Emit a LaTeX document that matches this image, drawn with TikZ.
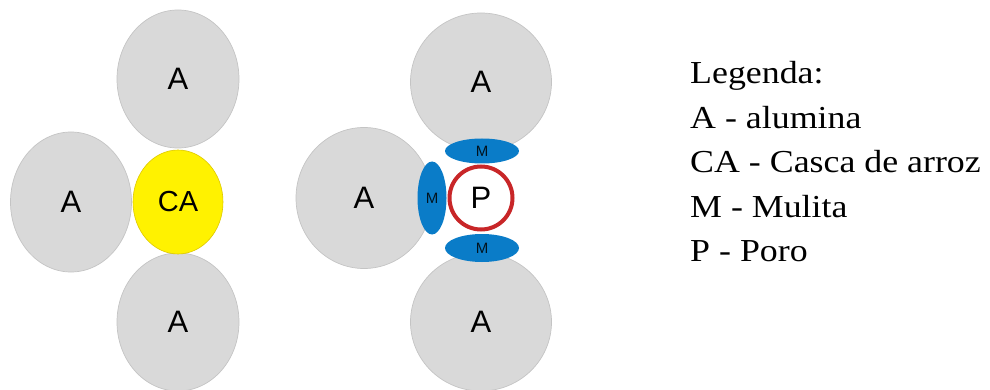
\documentclass[tikz,border=0pt]{standalone}
\usepackage{fontspec}
\setmainfont{Liberation Serif}
\newfontfamily\labelfont{Liberation Sans}
\usetikzlibrary{shapes.geometric}

\definecolor{grain}{RGB}{217,217,217}
\definecolor{grainedge}{RGB}{196,196,196}
\definecolor{husk}{RGB}{255,242,0}
\definecolor{huskedge}{RGB}{222,200,0}
\definecolor{mullite}{RGB}{10,124,200}
\definecolor{pore}{RGB}{200,38,40}

\tikzset{
  grainbox/.style={ellipse, inner sep=0pt, fill=grain, draw=grainedge, line width=0.7pt,
    font=\labelfont\fontsize{31}{32}\selectfont},
  huskbox/.style={ellipse, inner sep=0pt, fill=husk, draw=huskedge, line width=0.6pt,
    font=\labelfont\fontsize{29}{30}\selectfont},
  mullitebox/.style={ellipse, inner sep=0pt, fill=mullite, draw=none,
    text=black!85!mullite, font=\labelfont\fontsize{15}{16}\selectfont},
  porebox/.style={circle, inner sep=0pt, fill=white, draw=pore, line width=4pt,
    minimum size=63pt, font=\labelfont\fontsize{31}{32}\selectfont},
  legendline/.style={anchor=base west, inner sep=0pt, xscale=1.12, transform shape,
    font=\fontsize{32}{36}\selectfont}
}

\begin{document}
\begin{tikzpicture}[x=1pt, y=-1pt]
  \useasboundingbox (0,0) rectangle (990,390);

  % before firing: alumina grains around a rice husk particle
  \node[grainbox, minimum width=122pt, minimum height=138pt] (la1) at (178,79) {A};
  \node[grainbox, minimum width=121pt, minimum height=140pt] (la2) at (71,202) {A};
  \node[grainbox, minimum width=122pt, minimum height=138pt] (la3) at (178,322) {A};
  \node[huskbox, minimum width=90pt, minimum height=104pt] (ca) at (178,202) {CA};

  % after firing: pore left by the husk, mullite between the grains
  \node[grainbox, minimum width=141pt, minimum height=138pt] (ra1) at (481,82) {A};
  \node[grainbox, minimum width=136pt, minimum height=141pt] (ra2) at (364,198) {A};
  \node[grainbox, minimum width=141pt, minimum height=138pt] (ra3) at (481,322) {A};
  \node[mullitebox, minimum width=74pt, minimum height=25pt] (m1) at (482,151) {M};
  \node[mullitebox, minimum width=29pt, minimum height=73pt] (m2) at (432,198) {M};
  \node[mullitebox, minimum width=74pt, minimum height=28pt] (m3) at (482,248) {M};
  \node[porebox] (p) at (481,198) {P};

  % legend
  \node[legendline] (leg0) at (690,84)  {Legenda:};
  \node[legendline] (leg1) at (690,129) {A - alumina};
  \node[legendline] (leg2) at (690,173) {CA - Casca de arroz};
  \node[legendline] (leg3) at (690,217) {M - Mulita};
  \node[legendline] (leg4) at (690,261) {P - Poro};
\end{tikzpicture}
\end{document}
